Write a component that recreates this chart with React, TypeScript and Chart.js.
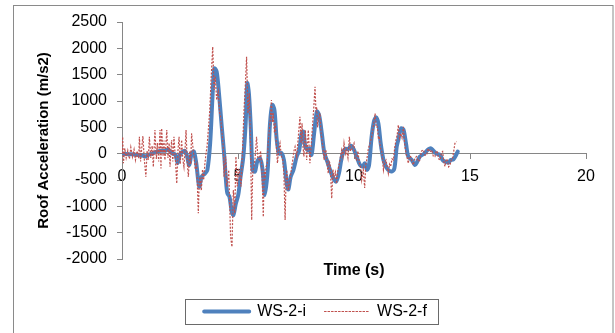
import React, { useEffect, useRef } from "react";
import { Chart, registerables } from "chart.js";

Chart.register(...registerables);

// ---- Data ----
const seriesNames = ["WS-2-i", "WS-2-f"];

const xTickValues = [0, 5, 10, 15, 20];
const yTickValues = [-2000, -1500, -1000, -500, 0, 500, 1000, 1500, 2000, 2500];

// WS-2-i (smooth, thick blue)
const blueTime = [
  0.0, 0.3, 0.6, 0.92, 1.0, 1.1, 1.3, 1.5, 1.7, 1.9, 2.0, 2.15, 2.3, 2.4, 2.5, 2.7, 2.8, 2.9, 3.0, 3.1,
  3.2, 3.33, 3.43, 3.58, 3.68, 3.8, 3.9, 3.98, 4.08, 4.18, 4.3, 4.4, 4.48, 4.54, 4.63, 4.73, 4.8, 4.91,
  5.01, 5.11, 5.23, 5.33, 5.4, 5.47, 5.55, 5.63, 5.73, 5.83, 5.95, 6.06, 6.16, 6.28, 6.38, 6.48, 6.57,
  6.67, 6.77, 6.88, 6.98, 7.1, 7.17, 7.27, 7.39, 7.53, 7.64, 7.74, 7.82, 7.89, 7.99, 8.07, 8.17, 8.28,
  8.4, 8.5, 8.62, 8.72, 8.85, 8.97, 9.11, 9.23, 9.35, 9.48, 9.61, 9.76, 9.87, 9.98, 10.11, 10.26, 10.37,
  10.47, 10.56, 10.65, 10.76, 10.86, 10.95, 11.05, 11.15, 11.27, 11.38, 11.48, 11.62, 11.74, 11.84,
  11.91, 12.03, 12.13, 12.24, 12.34, 12.49, 12.63, 12.73, 12.84, 13.02, 13.2, 13.32, 13.42, 13.56,
  13.71, 13.82, 13.92, 14.07, 14.17, 14.28, 14.4, 14.47,
];
const blueValues = [
  0, -10, -20, -40, -55, -30, 0, 40, 55, 60, 80, 10, -20, -180, -20, 55, -40, -215, 0, 40,
  -180, -625, -440, -375, -310, 200, 1080, 1620, 1560, 1145, 510, 0, -500, -750, -815, -1100, -1165, -940,
  -785, -440, -55, 575, 1335, 1145, 510, -310, -340, -150, -90, -310, -785, -310, 575, 925, 830,
  260, 0, 10, -120, -565, -680, -440, -310, -55, 70, 385, 420, 160, 70, 100, -20, 385,
  800, 720, 360, 20, -150, -310, -470, -530, -375, -55, 90, 90, 150, 90, -55, -215, -245,
  -185, -310, -215, 320, 610, 690, 575, 195, -120, -245, -310, -340, -280, 130,
  260, 480, 460, 195, -55, -120, -215, -150, -55, 0, 80, 100, 55, 0,
  -25, -120, -150, -170, -120, -110, -25, 40,
];

// WS-2-f (noisy, dotted red)
const redTime = [
  0.0, 0.03, 0.06, 0.12, 0.18, 0.25, 0.32, 0.38, 0.45, 0.52, 0.58, 0.65, 0.72, 0.75, 0.8, 0.85, 0.9, 0.96,
  1.03, 1.08, 1.13, 1.18, 1.24, 1.3, 1.35, 1.42, 1.48, 1.53, 1.58, 1.64, 1.68, 1.71, 1.77, 1.81, 1.85,
  1.89, 1.93, 1.98, 2.03, 2.07, 2.11, 2.14, 2.19, 2.24, 2.3, 2.36, 2.41, 2.46, 2.51, 2.57, 2.62, 2.67,
  2.72, 2.76, 2.81, 2.86, 2.92, 2.96, 3.0, 3.05, 3.1, 3.16, 3.22, 3.29, 3.33, 3.36, 3.42, 3.47, 3.52,
  3.57, 3.62, 3.67, 3.72, 3.78, 3.84, 3.91, 3.97, 4.02, 4.08, 4.15, 4.2, 4.25, 4.3, 4.34, 4.37, 4.4,
  4.44, 4.47, 4.51, 4.56, 4.6, 4.64, 4.68, 4.74, 4.8, 4.86, 4.91, 4.97, 5.02, 5.06, 5.13, 5.17, 5.2,
  5.26, 5.32, 5.37, 5.43, 5.49, 5.55, 5.59, 5.63, 5.66, 5.73, 5.8, 5.86, 5.92, 5.97, 6.02, 6.09, 6.13,
  6.16, 6.21, 6.26, 6.3, 6.35, 6.4, 6.44, 6.48, 6.52, 6.57, 6.61, 6.66, 6.7, 6.76, 6.81, 6.87, 6.93,
  6.98, 7.03, 7.07, 7.1, 7.17, 7.24, 7.3, 7.36, 7.41, 7.46, 7.53, 7.6, 7.67, 7.72, 7.76, 7.8, 7.84,
  7.9, 7.96, 8.03, 8.07, 8.1, 8.16, 8.22, 8.27, 8.32, 8.36, 8.39, 8.43, 8.46, 8.5, 8.53, 8.58, 8.62,
  8.67, 8.71, 8.75, 8.79, 8.84, 8.89, 8.93, 8.97, 9.04, 9.09, 9.14, 9.2, 9.25, 9.31, 9.37, 9.42, 9.47,
  9.52, 9.57, 9.63, 9.68, 9.74, 9.8, 9.85, 9.9, 9.95, 10.0, 10.05, 10.11, 10.17, 10.23, 10.28, 10.33,
  10.4, 10.46, 10.51, 10.55, 10.62, 10.69, 10.75, 10.81, 10.86, 10.91, 10.96, 11.01, 11.05, 11.09,
  11.14, 11.19, 11.23, 11.27, 11.33, 11.38, 11.43, 11.48, 11.53, 11.58, 11.64, 11.7, 11.75, 11.81,
  11.86, 11.91, 11.96, 12.01, 12.07, 12.13, 12.18, 12.24, 12.29, 12.34, 12.39, 12.44, 12.5, 12.56,
  12.63, 12.7, 12.77, 12.84, 12.91, 12.99, 13.06, 13.13, 13.2, 13.27, 13.35, 13.42, 13.49, 13.54,
  13.59, 13.65, 13.71, 13.77, 13.82, 13.87, 13.92, 13.97, 14.02, 14.08, 14.14, 14.2, 14.25, 14.3,
  14.35, 14.43,
];
const redValues = [
  0, 320, -180, 100, -80, 60, -100, 120, -60, 80, -120, 50, -90, 320, -150, 100, 335, -100,
  -440, 60, -120, 320, -80, 150, -250, 450, -100, 200, -150, 450, -280, 480, -50, 250, -120,
  150, 450, -80, 200, -250, 100, 260, -150, 320, -100, -565, 50, 320, -200, 260, -100, -250,
  100, 450, -150, -440, 50, -200, 385, 150, -50, -300, -200, -1130, -500, -440, -700, -300, -500,
  -200, 0, 150, 450, 800, 1400, 2030, 1210, 1460, 1020, 1180, 800, 700, 450, 260, 100, -440,
  -200, -55, -625, -500, -310, -900, -1575, -1770, -690, -1130, -55, -625, -300, -310, -625, -200, 130,
  830, 1335, 1840, 765, 1145, -55, -1260, -400, -310, -120, 320, -100, -120, 50, -180, -1200, -300,
  -500, -250, -180, 200, 450, 700, 1020, 600, 765, 400, 575, 100, -180, 100, 200, -50, -120,
  -400, -1260, -500, -310, -700, -500, -300, -120, 50, 130, -50, 320, 700, 200, 575, 150, -55,
  450, -120, 450, 100, -180, 200, 575, 900, 1270, 800, 890, 500, 640, 700, 765, 400, 260,
  100, -120, 50, 70, -200, -375, -150, -185, -850, -300, -440, -350, -565, -300, -185, -50, 70,
  -50, 200, 0, 70, -80, 320, 50, 70, 150, 200, -100, -120, 50, -185, -245, -500,
  -300, -650, -200, -120, 100, 195, 300, 450, 600, 765, 500, 510, 300, 320,
  100, 70, -100, -310, -150, -120, -250, -375, -200, -245, -100, -120, 100, 260,
  350, 545, 300, 385, 300, 510, 200, 0, -80, -185, -50, -55, -150, -215,
  -80, -55, -150, -120, 50, 70, -30, -25, 100, 30, 70, -50, -55, 50,
  40, -100, -120, 20, 40, -150, -245, -100, -120, -250, -215, -100, -90, 50,
  195, 230,
];

const FONT = "'Liberation Sans', Arial, Helvetica, sans-serif";
const AXIS_GREY = "#868686";

const framePlugin = {
  id: "frameAndLegendBox",
  beforeDraw(chart: any) {
    const ctx = chart.ctx;
    ctx.save();
    ctx.fillStyle = "#ffffff";
    ctx.fillRect(0, 0, chart.width, chart.height);
    ctx.strokeStyle = "#8a8a8a";
    ctx.lineWidth = 1;
    ctx.strokeRect(13.5, 5.5, 599.5, 340);
    ctx.restore();
  },
  afterDraw(chart: any) {
    const lg = chart.legend;
    if (!lg || !lg.legendHitBoxes || !lg.legendHitBoxes.length) return;
    const hb = lg.legendHitBoxes;
    let l = Infinity, r = -Infinity, t = Infinity, b = -Infinity;
    for (const h of hb) {
      l = Math.min(l, h.left);
      r = Math.max(r, h.left + h.width);
      t = Math.min(t, h.top);
      b = Math.max(b, h.top + h.height);
    }
    const ctx = chart.ctx;
    ctx.save();
    ctx.strokeStyle = "#6a6a6a";
    ctx.lineWidth = 1;
    const x0 = Math.round(l - 19) + 0.5;
    const x1 = Math.round(r + 11) + 0.5;
    const y0 = Math.round(t - 4.5) + 0.5;
    const y1 = Math.round(b + 4.5) + 0.5;
    ctx.strokeRect(x0, y0, x1 - x0, y1 - y0);
    ctx.restore();
  },
};

export default function App() {
  const ref = useRef<HTMLCanvasElement | null>(null);

  useEffect(() => {
    const canvas = ref.current;
    if (!canvas) return;
    const blueData = blueTime.map((t, i) => ({ x: t, y: blueValues[i] }));
    const redData = redTime.map((t, i) => ({ x: t, y: redValues[i] }));

    const chart = new Chart(canvas, {
      type: "line",
      data: {
        datasets: [
          {
            label: seriesNames[0],
            data: blueData,
            xAxisID: "x",
            yAxisID: "y",
            borderColor: "rgb(79,129,189)",
            backgroundColor: "transparent",
            borderWidth: 4,
            pointRadius: 0,
            tension: 0.3,
            borderJoinStyle: "round",
            borderCapStyle: "round",
            fill: false,
            order: 1,
          },
          {
            label: seriesNames[1],
            data: redData,
            xAxisID: "x",
            yAxisID: "y",
            borderColor: "rgb(192,80,77)",
            backgroundColor: "transparent",
            borderWidth: 1.2,
            borderDash: [2, 1.5],
            pointRadius: 0,
            tension: 0,
            fill: false,
            order: 0,
          },
        ],
      },
      options: {
        responsive: false,
        maintainAspectRatio: false,
        animation: false,
        devicePixelRatio: 1,
        layout: { padding: { left: 16, right: 0, top: 22, bottom: 3.5 } },
        plugins: {
          tooltip: { enabled: false },
          title: { display: false },
          legend: {
            display: true,
            position: "bottom",
            labels: {
              boxWidth: 45,
              boxHeight: 0,
              padding: 18,
              color: "#000",
              font: { family: FONT, size: 16 },
              sort: (a: any, b: any) => a.datasetIndex - b.datasetIndex,
            },
          },
        },
        scales: {
          x: {
            type: "linear",
            axis: "x",
            position: { y: 0 } as any,
            min: 0,
            max: 20,
            afterBuildTicks: (s: any) => {
              s.ticks = xTickValues.map((v) => ({ value: v }));
            },
            afterFit: (s: any) => {
              s.height = 0;
            },
            grid: {
              display: true,
              drawOnChartArea: false,
              drawTicks: true,
              tickLength: 5,
              color: AXIS_GREY,
            },
            border: { display: true, color: AXIS_GREY, width: 1 },
            ticks: {
              padding: 8,
              color: "#000",
              font: { family: FONT, size: 16 },
              maxRotation: 0,
              autoSkip: false,
              callback: (v: any) => String(v),
            },
            title: { display: false },
          },
          xt: {
            type: "linear",
            axis: "x",
            position: "bottom",
            min: 0,
            max: 20,
            afterFit: (s: any) => {
              s.height = 26.5;
            },
            grid: { display: false },
            border: { display: false },
            ticks: { display: false },
            title: {
              display: true,
              text: "Time (s)",
              color: "#000",
              font: { family: FONT, size: 16, weight: "bold" },
              padding: { top: 0, bottom: 5 },
            },
          },
          y: {
            type: "linear",
            axis: "y",
            position: "left",
            min: -2000,
            max: 2500,
            afterBuildTicks: (s: any) => {
              s.ticks = yTickValues.map((v) => ({ value: v }));
            },
            afterFit: (s: any) => {
              s.width = 106;
            },
            grid: {
              display: true,
              drawOnChartArea: false,
              drawTicks: true,
              tickLength: 5,
              color: AXIS_GREY,
            },
            border: { display: true, color: AXIS_GREY, width: 1 },
            ticks: {
              padding: 10,
              color: "#000",
              font: { family: FONT, size: 16 },
              autoSkip: false,
              callback: (v: any) => String(v),
            },
            title: {
              display: true,
              text: "Roof Acceleration (m/s2)",
              color: "#000",
              font: { family: FONT, size: 15, weight: "bold" },
              padding: { top: 19, bottom: 0 },
            },
          },
          yr: {
            type: "linear",
            axis: "y",
            position: "right",
            min: 0,
            max: 1,
            afterFit: (s: any) => {
              s.width = 29;
            },
            grid: { display: false },
            border: { display: false },
            ticks: { display: false },
            title: { display: false },
          },
        },
      } as any,
      plugins: [framePlugin],
    });

    return () => chart.destroy();
  }, []);

  return (
    <div
      style={{
        position: "fixed",
        left: 0,
        top: 0,
        width: 615,
        height: 333,
        background: "#fff",
        overflow: "hidden",
      }}
    >
      <canvas
        ref={ref}
        width={615}
        height={333}
        style={{ display: "block", width: "615px", height: "333px" }}
      />
    </div>
  );
}
